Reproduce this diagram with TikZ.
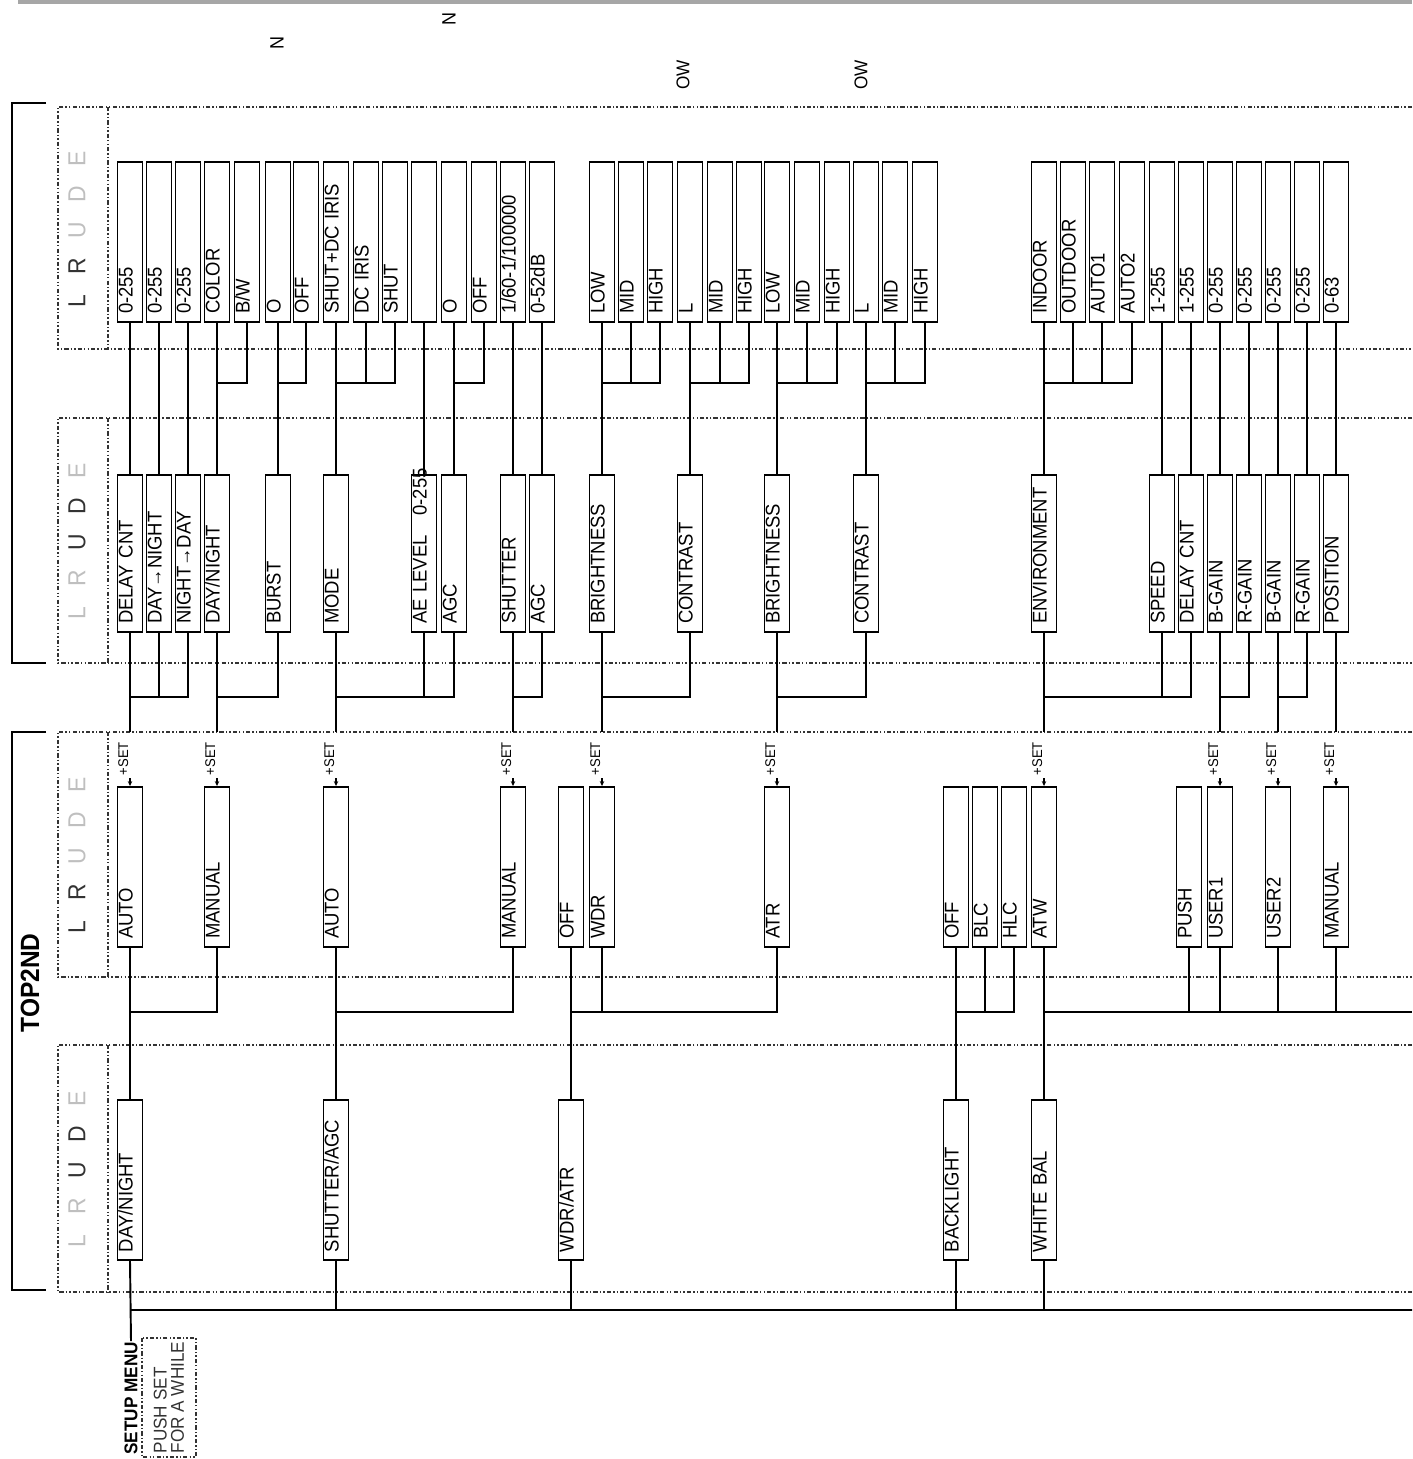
\documentclass[tikz,border=0pt]{standalone}
\usepackage{fontspec}
\setmainfont{Liberation Sans}[FakeStretch=0.93]
\usetikzlibrary{arrows.meta}
\setlength{\parindent}{0pt}

\begin{document}
\begin{tikzpicture}[x=0.02cm, y=-0.02cm, line width=1.1pt]
\tikzstyle{mbox}=[draw, rotate=90, inner xsep=0.16cm, inner ysep=0pt, text width=2.88cm, minimum height=0.5cm, text height=0.3cm, text depth=0.2cm, align=left, font=\fontsize{11.3}{13}\selectfont]
\tikzstyle{sbox}=[mbox, text width=2.82cm]
\tikzstyle{frame}=[line width=1pt, black!80, dash pattern=on 2.4pt off 1.2pt on 0.8pt off 1.2pt on 0.8pt off 1.2pt]
\tikzstyle{keys}=[rotate=90, inner sep=0pt, font=\fontsize{14}{16}\selectfont]
\tikzstyle{setlbl}=[rotate=90, anchor=base west, inner sep=0pt, font=\fontsize{8}{9}\selectfont]
\tikzstyle{setarr}=[-{Stealth[length=0.1cm,width=0.09cm]}, line width=0.6pt]
\useasboundingbox (0,0) rectangle (1412,1459);

% page remains at the top
\draw[line width=2pt, black!35] (18,2) -- (1412,2);
\node[rotate=90, font=\fontsize{11}{12}\selectfont] (n1) at (277,43) {N};
\node[rotate=90, font=\fontsize{11}{12}\selectfont] (n2) at (449,19) {N};
\node[rotate=90, font=\fontsize{10.5}{12}\selectfont] (o1) at (683,75) {OW};
\node[rotate=90, font=\fontsize{10.5}{12}\selectfont] (o2) at (861,75) {OW};

% bands
\draw[frame] (1412,107) -- (58,107) -- (58,349) -- (1412,349);
\draw[frame] (108,107) -- (108,349);
\draw[frame] (1412,418) -- (58,418) -- (58,663) -- (1412,663);
\draw[frame] (108,418) -- (108,663);
\draw[frame] (1412,732) -- (58,732) -- (58,977) -- (1412,977);
\draw[frame] (108,732) -- (108,977);
\draw[frame] (1412,1045) -- (58,1045) -- (58,1292) -- (1412,1292);
\draw[frame] (108,1045) -- (108,1292);

\node[keys] (k4) at (77,229) {\textcolor{black!80}{L\hspace{0.8em}R}\hspace{0.8em}\textcolor{black!25}{U\hspace{0.8em}D\hspace{0.8em}E}};
\node[keys] (k3) at (77,541) {\textcolor{black!25}{L\hspace{0.8em}R}\hspace{0.8em}\textcolor{black!80}{U\hspace{0.8em}D}\hspace{0.8em}\textcolor{black!25}{E}};
\node[keys] (k2) at (77,855) {\textcolor{black!80}{L\hspace{0.8em}R}\hspace{0.8em}\textcolor{black!25}{U\hspace{0.8em}D\hspace{0.8em}E}};
\node[keys] (k1) at (77,1169) {\textcolor{black!25}{L\hspace{0.8em}R}\hspace{0.8em}\textcolor{black!80}{U\hspace{0.8em}D}\hspace{0.8em}\textcolor{black!25}{E}};

% brackets
\draw[line width=1.3pt] (46,103) -- (12,103) -- (12,663) -- (46,663);
\draw[line width=1.3pt] (46,732) -- (12,732) -- (12,1290) -- (46,1290);
\node[rotate=90, font=\fontsize{15}{18}\selectfont\bfseries] (top2nd) at (30,983) {TOP2ND};

% values
\node[mbox] (t1) at (130,242) {0-255};
\node[mbox] (t2) at (159,242) {0-255};
\node[mbox] (t3) at (188,242) {0-255};
\node[mbox] (t4) at (217,242) {COLOR};
\node[mbox] (t5) at (247,242) {B/W};
\node[mbox] (t6) at (278,242) {O};
\node[mbox] (t7) at (306,242) {OFF};
\node[mbox] (t8) at (336,242) {SHUT+DC IRIS};
\node[mbox] (t9) at (366,242) {DC IRIS};
\node[mbox] (t10) at (395,242) {SHUT};
\node[mbox] (t11) at (424,242) {};
\node[mbox] (t12) at (454,242) {O};
\node[mbox] (t13) at (484,242) {OFF};
\node[mbox] (t14) at (513,242) {1/60-1/100000};
\node[mbox] (t15) at (542,242) {0-52dB};
\node[mbox] (t16) at (602,242) {LOW};
\node[mbox] (t17) at (631,242) {MID};
\node[mbox] (t18) at (660,242) {HIGH};
\node[mbox] (t19) at (690,242) {L};
\node[mbox] (t20) at (720,242) {MID};
\node[mbox] (t21) at (749,242) {HIGH};
\node[mbox] (t22) at (777,242) {LOW};
\node[mbox] (t23) at (807,242) {MID};
\node[mbox] (t24) at (837,242) {HIGH};
\node[mbox] (t25) at (866,242) {L};
\node[mbox] (t26) at (895,242) {MID};
\node[mbox] (t27) at (925,242) {HIGH};
\node[mbox] (t28) at (1044,242) {INDOOR};
\node[mbox] (t29) at (1073,242) {OUTDOOR};
\node[mbox] (t30) at (1102,242) {AUTO1};
\node[mbox] (t31) at (1132,242) {AUTO2};
\node[mbox] (t32) at (1162,242) {1-255};
\node[mbox] (t33) at (1191,242) {1-255};
\node[mbox] (t34) at (1220,242) {0-255};
\node[mbox] (t35) at (1249,242) {0-255};
\node[mbox] (t36) at (1278,242) {0-255};
\node[mbox] (t37) at (1307,242) {0-255};
\node[mbox] (t38) at (1336,242) {0-63};

% items
\node[sbox] (dcnt) at (130,553.5) {DELAY CNT};
\node[sbox] (dton) at (159,553.5) {DAY→NIGHT};
\node[sbox] (ntod) at (188,553.5) {NIGHT→DAY};
\node[sbox] (dnsw) at (217,553.5) {DAY/NIGHT};
\node[sbox] (burst) at (278,553.5) {BURST};
\node[sbox] (mode) at (336,553.5) {MODE};
\node[sbox] (aelev) at (424,553.5) {\rlap{AE LEVEL\quad 0-255}};
\node[sbox] (agcA) at (454,553.5) {AGC};
\node[sbox] (shut) at (513,553.5) {SHUTTER};
\node[sbox] (agcM) at (542,553.5) {AGC};
\node[sbox] (bri1) at (602,553.5) {BRIGHTNESS};
\node[sbox] (con1) at (690,553.5) {CONTRAST};
\node[sbox] (bri2) at (777,553.5) {BRIGHTNESS};
\node[sbox] (con2) at (866,553.5) {CONTRAST};
\node[sbox] (env) at (1044,553.5) {ENVIRONMENT};
\node[sbox] (speed) at (1162,553.5) {SPEED};
\node[sbox] (delay) at (1191,553.5) {DELAY CNT};
\node[sbox] (bgain1) at (1220,553.5) {B-GAIN};
\node[sbox] (rgain1) at (1249,553.5) {R-GAIN};
\node[sbox] (bgain2) at (1278,553.5) {B-GAIN};
\node[sbox] (rgain2) at (1307,553.5) {R-GAIN};
\node[sbox] (posn) at (1336,553.5) {POSITION};

% modes
\node[mbox] (dnauto) at (130,867) {AUTO};
\node[mbox] (dnman) at (217,867) {MANUAL};
\node[mbox] (saauto) at (336,867) {AUTO};
\node[mbox] (saman) at (513,867) {MANUAL};
\node[mbox] (wdroff) at (571,867) {OFF};
\node[mbox] (wdron) at (602,867) {WDR};
\node[mbox] (atr) at (777,867) {ATR};
\node[mbox] (bloff) at (956,867) {OFF};
\node[mbox] (blc) at (985,867) {BLC};
\node[mbox] (hlc) at (1014,867) {HLC};
\node[mbox] (atw) at (1044,867) {ATW};
\node[mbox] (push) at (1189,867) {PUSH};
\node[mbox] (user1) at (1220,867) {USER1};
\node[mbox] (user2) at (1278,867) {USER2};
\node[mbox] (wbman) at (1336,867) {MANUAL};

% top menu
\node[mbox] (daynight) at (130,1180) {DAY/NIGHT};
\node[mbox] (shutagc) at (336,1180) {SHUTTER/AGC};
\node[mbox] (wdratr) at (571,1180) {WDR/ATR};
\node[mbox] (backlight) at (956,1180) {BACKLIGHT};
\node[mbox] (whitebal) at (1044,1180) {WHITE BAL};

\node[rotate=90, anchor=east, inner sep=0pt, font=\fontsize{10.5}{12}\selectfont\bfseries] (setup) at (131,1341) {SETUP MENU};
\node[draw, frame, rotate=90, minimum width=2.38cm, minimum height=1.08cm, inner sep=0pt, align=left, font=\fontsize{10.5}{9.8}\selectfont] (hold) at (169,1397.5) {PUSH SET\\FOR A WHILE};

% SET marks
\foreach \b [count=\i] in {dnauto,dnman,saauto,saman,wdron,atr,atw,user1,user2,wbman} {
  \node[setlbl] (s\i) at ([shift={(-2,-10)}]\b.east) {+SET};
  \draw[setarr] ([shift={(0,-8)}]\b.east) -- (\b.east);
}

\coordinate (j4) at (0,383);
\coordinate (j3) at (0,697);
\coordinate (d2) at (0,732);
\coordinate (j2) at (0,1012);
\coordinate (j1) at (0,1310);
\coordinate (e2) at (1412,1012);
\coordinate (e1) at (1412,1310);

\draw
(t1.west) -- (dcnt.east)  (t2.west) -- (dton.east)  (t3.west) -- (ntod.east)
(t4.west) -- (dnsw.east)  (t5.west) |- (t4.west |- j4)
(t6.west) -- (burst.east)  (t7.west) |- (t6.west |- j4)
(t8.west) -- (mode.east)  (t9.west) |- (t8.west |- j4)  (t10.west) |- (t8.west |- j4)
(t11.west) -- (aelev.east)
(t12.west) -- (agcA.east)  (t13.west) |- (t12.west |- j4)
(t14.west) -- (shut.east)  (t15.west) -- (agcM.east)
(t16.west) -- (bri1.east)  (t17.west) |- (t16.west |- j4)  (t18.west) |- (t16.west |- j4)
(t19.west) -- (con1.east)  (t20.west) |- (t19.west |- j4)  (t21.west) |- (t19.west |- j4)
(t22.west) -- (bri2.east)  (t23.west) |- (t22.west |- j4)  (t24.west) |- (t22.west |- j4)
(t25.west) -- (con2.east)  (t26.west) |- (t25.west |- j4)  (t27.west) |- (t25.west |- j4)
(t28.west) -- (env.east)  (t29.west) |- (t28.west |- j4)  (t30.west) |- (t28.west |- j4)
(t31.west) |- (t28.west |- j4)
(t32.west) -- (speed.east)  (t33.west) -- (delay.east)  (t34.west) -- (bgain1.east)
(t35.west) -- (rgain1.east)  (t36.west) -- (bgain2.east)  (t37.west) -- (rgain2.east)
(t38.west) -- (posn.east);

\draw
(dcnt.west) -- (dnauto.east |- d2)  (dton.west) |- (dcnt.west |- j3)  (ntod.west) |- (dcnt.west |- j3)
(dnsw.west) -- (dnman.east |- d2)  (burst.west) |- (dnsw.west |- j3)
(mode.west) -- (saauto.east |- d2)  (aelev.west) |- (mode.west |- j3)  (agcA.west) |- (mode.west |- j3)
(shut.west) -- (saman.east |- d2)  (agcM.west) |- (shut.west |- j3)
(bri1.west) -- (wdron.east |- d2)  (con1.west) |- (bri1.west |- j3)
(bri2.west) -- (atr.east |- d2)  (con2.west) |- (bri2.west |- j3)
(env.west) -- (atw.east |- d2)  (speed.west) |- (env.west |- j3)  (delay.west) |- (env.west |- j3)
(bgain1.west) -- (user1.east |- d2)  (rgain1.west) |- (bgain1.west |- j3)
(bgain2.west) -- (user2.east |- d2)  (rgain2.west) |- (bgain2.west |- j3)
(posn.west) -- (wbman.east |- d2);

\draw
(dnauto.west) -- (daynight.east)  (dnman.west) |- (dnauto.west |- j2)
(saauto.west) -- (shutagc.east)  (saman.west) |- (saauto.west |- j2)
(wdroff.west) -- (wdratr.east)  (wdron.west) |- (wdroff.west |- j2)  (atr.west) |- (wdroff.west |- j2)
(bloff.west) -- (backlight.east)  (blc.west) |- (bloff.west |- j2)  (hlc.west) |- (bloff.west |- j2)
(atw.west) -- (whitebal.east)  (push.west) |- (atw.west |- j2)  (user1.west) |- (atw.west |- j2)
(user2.west) |- (atw.west |- j2)  (wbman.west) |- (atw.west |- j2)
(atw.west |- j2) -- (e2);

\draw
(daynight.west) -- (setup.east)
(shutagc.west) -- (shutagc.west |- j1)  (wdratr.west) -- (wdratr.west |- j1)
(backlight.west) -- (backlight.west |- j1)  (whitebal.west) -- (whitebal.west |- j1)
(daynight.west |- j1) -- (e1);
\end{tikzpicture}
\end{document}
